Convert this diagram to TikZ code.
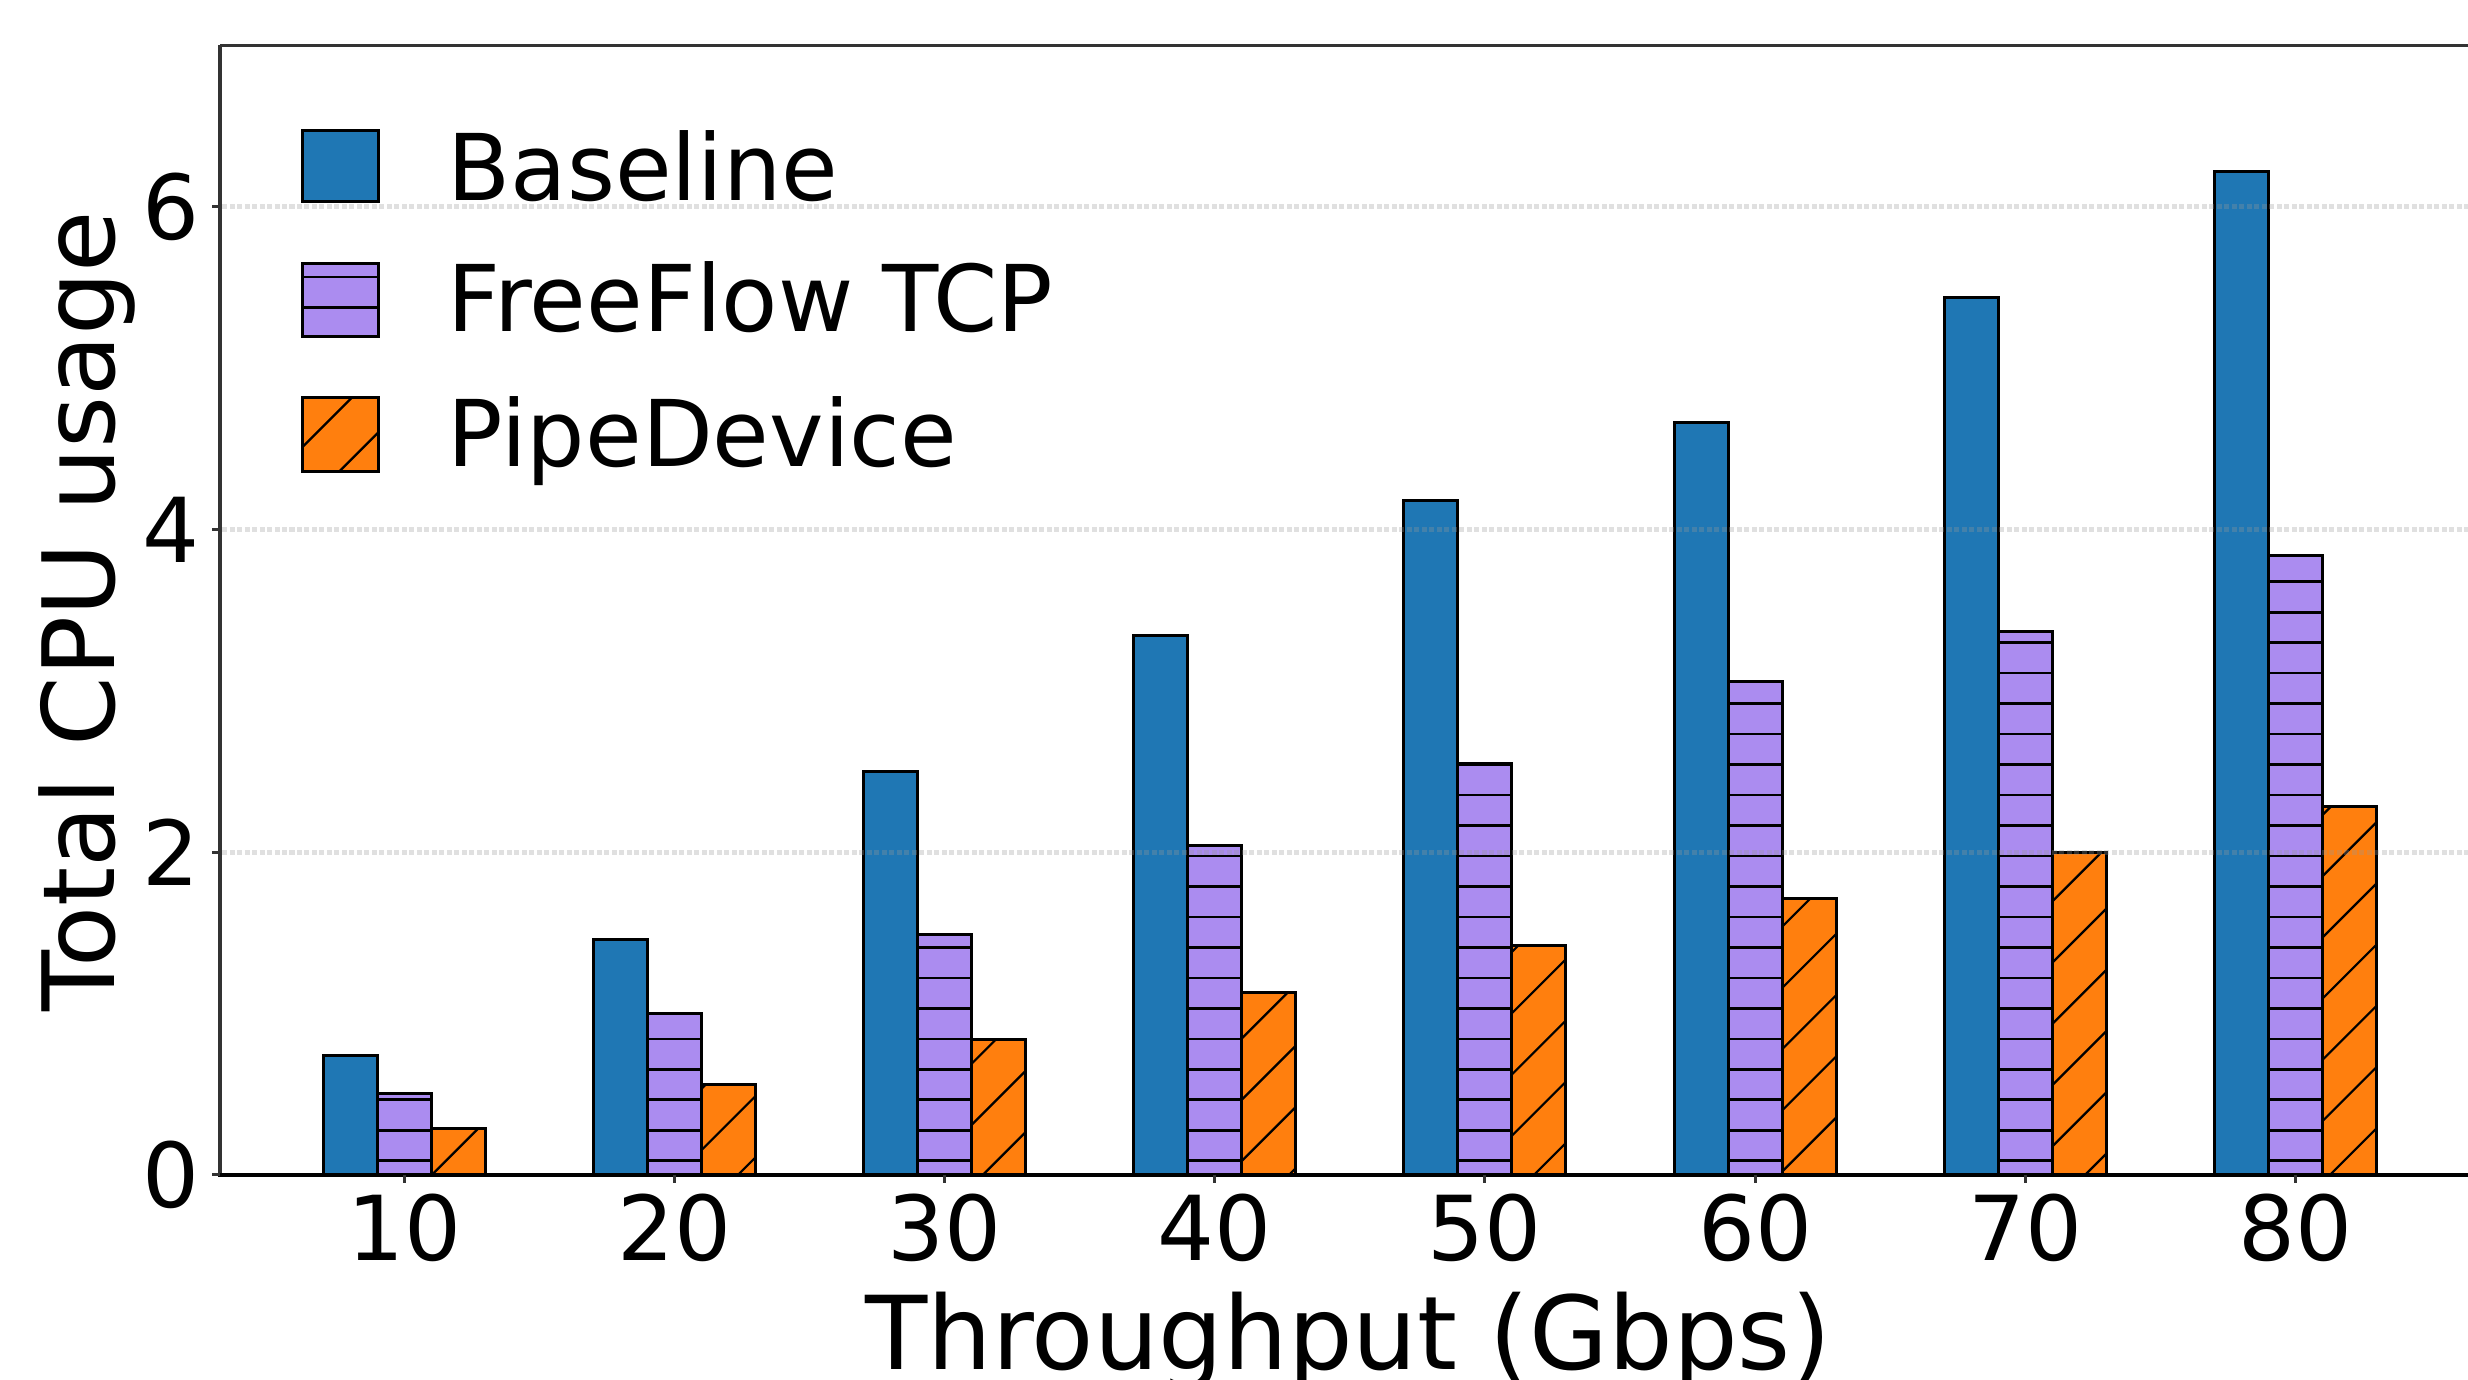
\documentclass[tikz,border=0pt]{standalone}
\usepackage{fontspec}
\setmainfont{DejaVu Sans}
\definecolor{cblue}{HTML}{1F77B4}
\definecolor{cpurple}{HTML}{AB8CF0}
\definecolor{corange}{HTML}{FF7F0E}
\definecolor{spine}{HTML}{333333}
\begin{document}
\begin{tikzpicture}[
  bar/.style={draw=black, line width=0.03cm},
  hatchh/.style={black, line width=0.026cm},
  hatchd/.style={black, line width=0.022cm},
  ticklab/.style={font=\fontsize{25.5}{30}\selectfont, inner sep=0pt},
  leglab/.style={font=\fontsize{26.2}{31}\selectfont, inner sep=0pt},
  axlab/.style={font=\fontsize{28.4}{34}\selectfont, inner sep=0pt},
  xaxlab/.style={font=\fontsize{29}{34}\selectfont, inner sep=0pt},
  gridln/.style={color=black!40, opacity=0.3, line width=0.05cm, dash pattern=on 0.05cm off 0.025cm},
  spineln/.style={spine, line width=0.033cm},
  tickln/.style={spine, line width=0.03cm},
]
\useasboundingbox (0,0) rectangle (24.68,13.79);
\clip (0,0) rectangle (24.68,13.79);
\def\yz{2.043}
\def\yu{1.6133}

% bars
\foreach \i/\b/\f/\p in {0/0.74/0.505/0.285, 1/1.46/1.00/0.56, 2/2.50/1.49/0.84, 3/3.34/2.04/1.13,
                         4/4.18/2.55/1.42, 5/4.66/3.06/1.71, 6/5.44/3.37/2.00, 7/6.22/3.84/2.28}{
  \pgfmathsetmacro\xc{4.045+2.701*\i}
  \pgfmathsetmacro\yb{\yz+\yu*\b}
  \pgfmathsetmacro\yf{\yz+\yu*\f}
  \pgfmathsetmacro\yp{\yz+\yu*\p}
  % baseline
  \fill[cblue] ({\xc-0.81},\yz) rectangle ({\xc-0.27},\yb);
  \draw[bar] ({\xc-0.81},\yz) rectangle ({\xc-0.27},\yb);
  % freeflow
  \fill[cpurple] ({\xc-0.27},\yz) rectangle ({\xc+0.27},\yf);
  \begin{scope}
    \clip ({\xc-0.27},\yz) rectangle ({\xc+0.27},\yf);
    \foreach \k in {0,...,21}{
      \draw[hatchh] ({\xc-0.3},{2.183+0.3047*\k}) -- ({\xc+0.3},{2.183+0.3047*\k});
    }
  \end{scope}
  \draw[bar] ({\xc-0.27},\yz) rectangle ({\xc+0.27},\yf);
  % pipedevice
  \fill[corange] ({\xc+0.27},\yz) rectangle ({\xc+0.81},\yp);
  \begin{scope}
    \clip ({\xc+0.27},\yz) rectangle ({\xc+0.81},\yp);
    \foreach \kk in {-4,...,35}{
      \pgfmathsetmacro\cc{0.44+0.6123*\kk}
      \draw[hatchd] ({\cc+1.5},1.5) -- ({\cc+7},7);
    }
  \end{scope}
  \draw[bar] ({\xc+0.27},\yz) rectangle ({\xc+0.81},\yp);
}

% grid lines (over bars, semi transparent)
\foreach \v in {2,4,6}{
  \draw[gridln] (2.22,{\yz+\yu*\v}) -- (24.8,{\yz+\yu*\v});
}

% spines
\draw[spineln] (2.20,\yz) -- (2.20,13.336);
\draw[spineln] (2.20,13.336) -- (24.8,13.336);
\draw[black, line width=0.04cm] (2.18,\yz) -- (24.8,\yz);

% y ticks and labels
\foreach \v in {0,2,4,6}{
  \draw[tickln] (2.12,{\yz+\yu*\v}) -- (2.20,{\yz+\yu*\v});
  \node[ticklab, anchor=east] (yl\v) at (2.00,{\yz+\yu*\v}) {\v};
}

% x ticks and labels
\foreach \i/\t in {0/10,1/20,2/30,3/40,4/50,5/60,6/70,7/80}{
  \pgfmathsetmacro\xc{4.045+2.701*\i}
  \draw[tickln] (\xc,\yz) -- (\xc,1.96);
  \node[ticklab, anchor=base] (xl\t) at (\xc,1.19) {\t};
}

% axis labels
\node[xaxlab, anchor=base] (xlabel) at (13.48,0.10) {Throughput (Gbps)};
\node[axlab, anchor=base, rotate=90] (ylabel) at (1.15,7.68) {Total CPU usage};

% legend
\fill[cblue] (3.02,11.77) rectangle (3.78,12.48);
\draw[bar] (3.02,11.77) rectangle (3.78,12.48);
\node[leglab, anchor=base west] (lgb) at (4.47,11.78) {Baseline};

\fill[cpurple] (3.02,10.42) rectangle (3.78,11.15);
\begin{scope}
  \clip (3.02,10.42) rectangle (3.78,11.15);
  \foreach \k in {26,...,30}{
    \draw[hatchh] (3.0,{2.183+0.3047*\k}) -- (3.8,{2.183+0.3047*\k});
  }
\end{scope}
\draw[bar] (3.02,10.42) rectangle (3.78,11.15);
\node[leglab, anchor=base west] (lgf) at (4.47,10.47) {FreeFlow TCP};

\fill[corange] (3.02,9.07) rectangle (3.78,9.81);
\begin{scope}
  \clip (3.02,9.07) rectangle (3.78,9.81);
  \foreach \kk in {-13,...,-8}{
    \pgfmathsetmacro\cc{0.44+0.6123*\kk}
    \draw[hatchd] ({\cc+8.5},8.5) -- ({\cc+10.5},10.5);
  }
\end{scope}
\draw[bar] (3.02,9.07) rectangle (3.78,9.81);
\node[leglab, anchor=base west] (lgp) at (4.47,9.12) {PipeDevice};
\end{tikzpicture}
\end{document}
